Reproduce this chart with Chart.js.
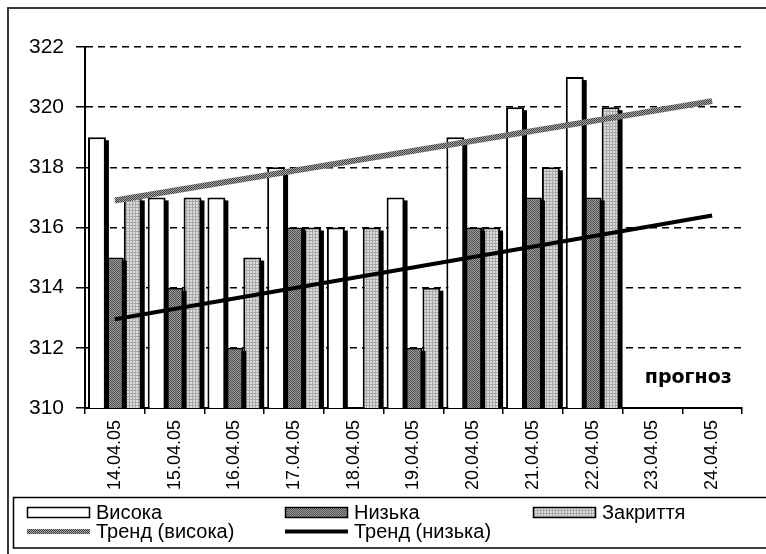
<!DOCTYPE html>
<html>
<head>
<meta charset="utf-8">
<script src="https://cdn.jsdelivr.net/npm/chart.js@4.4.1/dist/chart.umd.min.js"></script>
<style>
  html, body { margin: 0; padding: 0; background: #fff; }
  #wrap { width: 766px; height: 554px; position: relative; }
  canvas { display: block; }
</style>
</head>
<body>
<div id="wrap"><canvas id="c" width="766" height="554"></canvas></div>
<script>
// Trading days (the last two are the forecast period)
const dates = ['14.04.05', '15.04.05', '16.04.05', '17.04.05', '18.04.05', '19.04.05',
               '20.04.05', '21.04.05', '22.04.05', '23.04.05', '24.04.05'];

// Daily high / low / close
const highValues  = [319, 317, 317, 318, 316, 317, 319, 320, 321, null, null];
const lowValues   = [315, 314, 312, 316, null, 312, 316, 317, 317, null, null];
const closeValues = [317, 317, 315, 316, 316, 314, 316, 318, 320, null, null];

// Linear trend lines: start and end values, drawn through the forecast days
const trendHighValues = [316.9, null, null, null, null, null, null, null, null, null, 320.2];
const trendLowValues  = [312.95, null, null, null, null, null, null, null, null, null, 316.4];

// Value axis
const yMin = 310;
const yMax = 322;
const yStep = 2;

const seriesNames = ['Висока', 'Низька', 'Закриття', 'Тренд (висока)', 'Тренд (низька)'];
const forecastLabel = 'прогноз';

const canvas = document.getElementById('c');
const ctx0 = canvas.getContext('2d');

function makePattern(size, paint) {
  const c = document.createElement('canvas');
  c.width = size; c.height = size;
  paint(c.getContext('2d'));
  return ctx0.createPattern(c, 'repeat');
}

// hatched fills in the style of a monochrome spreadsheet chart
const lowFill = makePattern(2, g => {
  g.fillStyle = '#9c9c9c'; g.fillRect(0, 0, 2, 2);
  g.fillStyle = '#505050'; g.fillRect(0, 0, 1, 1); g.fillRect(1, 1, 1, 1);
});
const closeFill = makePattern(3, g => {
  g.fillStyle = '#dcdcdc'; g.fillRect(0, 0, 3, 3);
  g.fillStyle = '#a9a9a9'; g.fillRect(0, 0, 3, 1); g.fillRect(0, 0, 1, 3);
});
const trendFill = makePattern(2, g => {
  g.fillStyle = '#a8a8a8'; g.fillRect(0, 0, 2, 2);
  g.fillStyle = '#404040'; g.fillRect(0, 0, 1, 1); g.fillRect(1, 1, 1, 1);
});

// solid black drop shadow to the lower right of every bar,
// painted just before the bars of the same series
const barShadow = {
  id: 'barShadow',
  beforeDatasetDraw(chart, args) {
    const meta = args.meta;
    if (meta.type !== 'bar') return;
    const { ctx, chartArea } = chart;
    ctx.save();
    ctx.beginPath();
    ctx.rect(chartArea.left, chartArea.top, chartArea.right - chartArea.left, chartArea.bottom - chartArea.top);
    ctx.clip();
    ctx.fillStyle = '#000';
    meta.data.forEach(bar => {
      if (bar.skip) return;
      const { x, y, base, width } = bar.getProps(['x', 'y', 'base', 'width'], true);
      if (!isFinite(y) || Math.abs(base - y) < 0.5) return;
      const top = Math.min(y, base);
      ctx.fillRect(x - width / 2 + 3, top + 3, width, Math.abs(base - y));
    });
    ctx.restore();
  }
};

// "прогноз" caption over the forecast days
const forecastNote = {
  id: 'forecastNote',
  afterDatasetsDraw(chart) {
    const { ctx, scales: { x, y } } = chart;
    const cx = (x.getPixelForValue(9) + x.getPixelForValue(10)) / 2 + 6;
    const cy = y.getPixelForValue(311);
    ctx.save();
    ctx.font = 'bold 19px "DejaVu Sans"';
    ctx.fillStyle = '#000';
    ctx.textAlign = 'center';
    ctx.textBaseline = 'middle';
    ctx.fillText(forecastLabel, cx, cy);
    ctx.restore();
  }
};

// outer frame plus a boxed legend laid out in three columns
const boxedLegend = {
  id: 'boxedLegend',
  afterDraw(chart) {
    const ctx = chart.ctx;
    ctx.save();
    ctx.strokeStyle = '#3a3a3a';
    ctx.lineWidth = 2;
    ctx.strokeRect(8, 8, 820, 620);

    ctx.strokeStyle = '#000';
    ctx.lineWidth = 1.5;
    ctx.strokeRect(13.5, 497.5, 820, 50.5);

    const cols = [27, 285, 533];
    const rows = [512.5, 531.5];
    const symW = 63;
    ctx.font = '20px "Liberation Sans"';
    ctx.textBaseline = 'middle';
    ctx.textAlign = 'left';
    chart.data.datasets.forEach((ds, i) => {
      const sx = cols[i % 3];
      const sy = rows[Math.floor(i / 3)];
      if ((ds.type || chart.config.type) === 'bar') {
        ctx.fillStyle = ds.backgroundColor;
        ctx.fillRect(sx, sy - 5.5, symW, 11);
        ctx.strokeStyle = '#000';
        ctx.lineWidth = 1.5;
        ctx.strokeRect(sx + 0.5, sy - 5, symW - 1, 10);
      } else {
        ctx.strokeStyle = ds.borderColor;
        ctx.lineWidth = Math.min(ds.borderWidth, 5);
        ctx.beginPath();
        ctx.moveTo(sx, sy);
        ctx.lineTo(sx + symW, sy);
        ctx.stroke();
      }
      ctx.fillStyle = '#000';
      ctx.fillText(ds.label, sx + symW + 6, sy + 1);
    });
    ctx.restore();
  }
};

const barCommon = {
  type: 'bar',
  borderColor: '#000',
  borderWidth: 2,
  categoryPercentage: 0.9,
  barPercentage: 1.0,
  clip: 0,
  order: 1
};

new Chart(canvas, {
  type: 'bar',
  data: {
    labels: dates,
    datasets: [
      Object.assign({}, barCommon, { label: seriesNames[0], data: highValues, backgroundColor: '#ffffff' }),
      Object.assign({}, barCommon, { label: seriesNames[1], data: lowValues, backgroundColor: lowFill }),
      Object.assign({}, barCommon, { label: seriesNames[2], data: closeValues, backgroundColor: closeFill }),
      {
        type: 'line', label: seriesNames[3], data: trendHighValues,
        borderColor: trendFill, borderWidth: 6, pointRadius: 0, spanGaps: true,
        fill: false, tension: 0, order: 0
      },
      {
        type: 'line', label: seriesNames[4], data: trendLowValues,
        borderColor: '#000', borderWidth: 4, pointRadius: 0, spanGaps: true,
        fill: false, tension: 0, order: 0
      }
    ]
  },
  options: {
    responsive: false,
    animation: false,
    devicePixelRatio: 1,
    layout: { padding: { left: 0, top: 47, right: 24, bottom: 0 } },
    plugins: {
      legend: { display: false },
      tooltip: { enabled: false }
    },
    scales: {
      x: {
        offset: true,
        grid: { offset: true, drawOnChartArea: false, tickLength: 6, color: '#000', lineWidth: 1.5 },
        border: { color: '#000', width: 2 },
        ticks: {
          autoSkip: false, minRotation: 90, maxRotation: 90, padding: 6,
          color: '#000', font: { family: 'Liberation Sans', size: 18 }
        },
        afterFit(s) { s.height = 146; }
      },
      y: {
        min: yMin, max: yMax,
        ticks: {
          stepSize: yStep, padding: 12,
          color: '#000', font: { family: 'Liberation Sans', size: 21 }
        },
        grid: { color: '#000', lineWidth: 1.5, tickLength: 9, tickBorderDash: [], tickColor: '#000' },
        border: { color: '#000', width: 2, dash: [7, 5] },
        afterFit(s) { s.width = 85; }
      }
    }
  },
  plugins: [barShadow, forecastNote, boxedLegend]
});
</script>
</body>
</html>
